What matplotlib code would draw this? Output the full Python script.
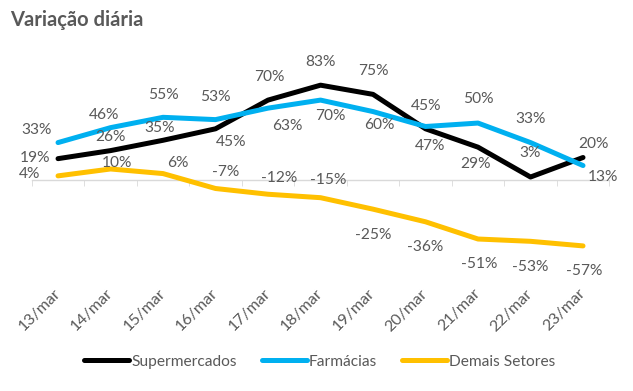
import matplotlib.pyplot as plt
import numpy as np

# dados
dias = ['13/mar', '14/mar', '15/mar', '16/mar', '17/mar', '18/mar',
        '19/mar', '20/mar', '21/mar', '22/mar', '23/mar']
supermercados = [19, 26, 35, 45, 70, 83, 75, 45, 29, 3, 20]
farmacias = [33, 46, 55, 53, 63, 70, 60, 47, 50, 33, 13]
demais = [4, 10, 6, -7, -12, -15, -25, -36, -51, -53, -57]

# deslocamento dos rótulos (pixels)
off_super = [(-23, 1), (0, 14), (-3, 12), (16, -13), (1, 23), (0, 23),
             (0, 23), (1, 23), (-3, -17), (0, 24), (10, 14)]
off_farm = [(-21, 13), (-6, 13), (0, 22), (0, 23), (19, -18), (10, -16),
            (6, -13), (5, -19), (0, 24), (0, 24), (20, -11)]
off_demais = [(-28, 2), (6, 6), (15, 11), (10, 17), (11, 16), (8, 18),
              (0, -26), (0, -25), (1, -25), (0, -26), (1, -25)]

plt.rcParams['font.family'] = ['Lato', 'DejaVu Sans']
cinza = '#595959'

fig = plt.figure(figsize=(6.33, 3.91), dpi=100)
ax = fig.add_axes([0.0502, 0.3476, 0.9123, 0.4698])

x = np.arange(len(dias))
series = [
    (supermercados, '#000000', 'Supermercados', off_super),
    (farmacias, '#00b0f0', 'Farmácias', off_farm),
    (demais, '#ffc000', 'Demais Setores', off_demais),
]
for vals, cor, nome, offs in series:
    ax.plot(x, vals, color=cor, lw=3.6, label=nome, solid_capstyle='round',
            solid_joinstyle='round', zorder=3)
    for xi, v, (dx, dy) in zip(x, vals, offs):
        ax.annotate(f'{v}%', (xi, v), xytext=(dx, dy), textcoords='offset pixels',
                    ha='center', va='center', fontsize=11.2, color=cinza, zorder=4)

ax.set_xlim(-0.5, len(dias) - 0.5)
ax.set_ylim(-65, 95)
ax.set_yticks([])
for s in ['top', 'right', 'left']:
    ax.spines[s].set_visible(False)
ax.spines['bottom'].set_position(('data', 0))
ax.spines['bottom'].set_color('#d9d9d9')
ax.spines['bottom'].set_linewidth(1)

ax.set_xticks(x)
ax.set_xticklabels(dias)
ax.set_xticks(np.arange(-0.5, len(dias)), minor=True)
ax.tick_params(axis='x', which='major', length=0, pad=80, labelsize=11.5, labelcolor=cinza)
ax.tick_params(axis='x', which='minor', length=4, color='#d9d9d9', direction='out')
plt.setp(ax.get_xticklabels(), rotation=45, ha='right', va='center', rotation_mode='anchor')

fig.text(0.016, 0.948, 'Variação diária', fontsize=14.5, fontweight='bold', color=cinza,
         ha='left', va='center')

leg = fig.legend(loc='center', bbox_to_anchor=(0.505, 0.075), ncol=3, frameon=False,
                 fontsize=11.2, handlelength=2.9, handletextpad=0.12, columnspacing=1.6)
for t in leg.get_texts():
    t.set_color(cinza)
for h in leg.get_lines():
    h.set_linewidth(3.6)

fig.savefig('out.png', dpi=100)
